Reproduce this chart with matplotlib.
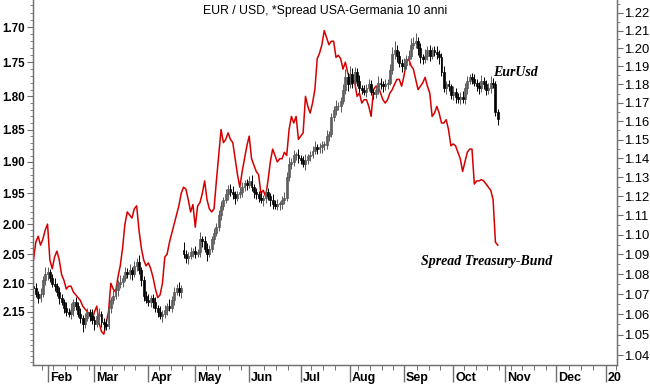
import matplotlib.pyplot as plt
import numpy as np
import pandas as pd
from matplotlib.ticker import FixedLocator, FixedFormatter, NullFormatter

plt.rcParams['font.family'] = ['Liberation Sans', 'DejaVu Sans']

# daily data, one value per weekday starting 24 Jan 2017
start_day = '2017-01-24'

closes = [
    1.073, 1.070, 1.068, 1.070, 1.077, 1.080, 1.081, 1.078, 1.075, 1.074,
    1.071, 1.068, 1.066, 1.063, 1.061, 1.060, 1.062, 1.066, 1.064, 1.060,
    1.058, 1.055, 1.058, 1.061, 1.059, 1.057, 1.055, 1.059, 1.060, 1.056,
    1.055, 1.054, 1.063, 1.067, 1.069, 1.072, 1.075, 1.076, 1.078, 1.081,
    1.080, 1.082, 1.080, 1.084, 1.086, 1.082, 1.077, 1.069, 1.067, 1.066,
    1.068, 1.066, 1.063, 1.061, 1.059, 1.060, 1.062, 1.064, 1.063, 1.067,
    1.071, 1.073, 1.071, 1.073, 1.090, 1.088, 1.089, 1.091, 1.092, 1.090,
    1.091, 1.098, 1.097, 1.093, 1.090, 1.093, 1.098, 1.101, 1.104, 1.110,
    1.115, 1.118, 1.121, 1.124, 1.122, 1.121, 1.119, 1.121, 1.122, 1.125,
    1.127, 1.126, 1.128, 1.125, 1.122, 1.121, 1.119, 1.118, 1.119, 1.122,
    1.120, 1.118, 1.116, 1.115, 1.116, 1.116, 1.118, 1.119, 1.130, 1.137,
    1.138, 1.142, 1.142, 1.140, 1.139, 1.137, 1.139, 1.141, 1.142, 1.144,
    1.146, 1.145, 1.146, 1.147, 1.147, 1.152, 1.153, 1.162, 1.166, 1.168,
    1.168, 1.171, 1.177, 1.184, 1.180, 1.186, 1.181, 1.187, 1.182, 1.178,
    1.177, 1.176, 1.178, 1.180, 1.176, 1.175, 1.177, 1.181, 1.180, 1.179,
    1.180, 1.181, 1.188, 1.197, 1.199, 1.196, 1.192, 1.190, 1.191, 1.194,
    1.196, 1.202, 1.203, 1.204, 1.200, 1.195, 1.194, 1.196, 1.199, 1.196,
    1.199, 1.198, 1.197, 1.195, 1.187, 1.178, 1.180, 1.179, 1.174, 1.176,
    1.173, 1.172, 1.173, 1.172, 1.178, 1.182, 1.184, 1.183, 1.181, 1.179,
    1.178, 1.182, 1.180, 1.177, 1.178, 1.181, 1.180, 1.165, 1.161,
]

# fx opens at the previous close, except the French-election gap
opens = [1.074] + closes[:-1]
opens[64] = 1.0925

# wick lengths in pips above / below the body
wick_hi = [
    20, 25, 15, 30, 20, 35, 25, 15, 20, 30,
    15, 25, 20, 15, 30, 20, 35, 15, 25, 20,
    30, 15, 25, 20, 15, 35, 20, 25, 30, 15,
    20, 25, 20, 15, 30, 25, 20, 35, 15, 25,
    20, 30, 15, 25, 20, 35, 15, 20, 25, 30,
    15, 20, 25, 15, 30, 20, 25, 15, 35, 20,
    25, 20, 30, 15, 40, 25, 20, 30, 15, 25,
    20, 35, 15, 25, 30, 20, 15, 25, 20, 30,
    25, 15, 30, 20, 25, 35, 15, 20, 30, 25,
    15, 20, 25, 30, 15, 25, 20, 35, 15, 20,
    25, 15, 30, 20, 25, 15, 20, 30, 25, 35,
    20, 25, 15, 30, 20, 25, 35, 15, 20, 25,
    30, 15, 20, 25, 20, 30, 15, 25, 20, 35,
    25, 20, 30, 45, 25, 40, 30, 25, 20, 30,
    15, 25, 20, 30, 25, 15, 20, 35, 25, 20,
    30, 20, 35, 40, 50, 30, 25, 20, 35, 25,
    30, 40, 35, 45, 25, 30, 20, 35, 25, 30,
    20, 25, 35, 20, 25, 30, 20, 25, 15, 30,
    20, 25, 30, 35, 30, 25, 20, 25, 30, 20,
    25, 30, 20, 25, 30, 35, 25, 20, 15,
]
wick_lo = [
    30, 15, 25, 20, 15, 25, 30, 20, 15, 25,
    20, 30, 15, 25, 20, 15, 25, 30, 20, 15,
    25, 35, 20, 15, 25, 20, 30, 15, 20, 25,
    30, 20, 15, 25, 20, 15, 30, 20, 25, 15,
    20, 25, 30, 15, 25, 20, 30, 25, 15, 20,
    25, 30, 20, 25, 15, 30, 20, 25, 15, 20,
    25, 15, 20, 30, 20, 25, 30, 15, 25, 20,
    15, 25, 30, 20, 35, 15, 20, 25, 15, 20,
    25, 20, 15, 30, 20, 25, 30, 15, 20, 25,
    20, 25, 15, 20, 30, 25, 20, 15, 30, 25,
    20, 30, 25, 15, 20, 30, 25, 20, 15, 20,
    25, 20, 30, 25, 20, 15, 30, 20, 25, 20,
    15, 25, 20, 30, 25, 20, 25, 15, 20, 25,
    20, 30, 15, 25, 35, 20, 30, 25, 30, 20,
    25, 20, 30, 15, 20, 30, 25, 20, 25, 30,
    20, 25, 15, 20, 30, 35, 25, 30, 20, 25,
    30, 20, 25, 30, 35, 30, 25, 20, 25, 30,
    20, 25, 30, 35, 25, 20, 30, 25, 20, 25,
    30, 20, 25, 20, 25, 30, 20, 25, 20, 25,
    30, 20, 25, 30, 20, 25, 20, 25, 30,
]

# US-German 10y spread (left axis, inverted)
spread = [
    2.06, 2.03, 2.02, 2.035, 2.025, 2.01, 2.00, 2.06, 2.075, 2.055,
    2.045, 2.06, 2.085, 2.095, 2.11, 2.105, 2.105, 2.115, 2.12, 2.125,
    2.13, 2.14, 2.145, 2.15, 2.155, 2.165, 2.15, 2.14, 2.17, 2.185,
    2.19, 2.17, 2.15, 2.10, 2.11, 2.115, 2.09, 2.07, 2.04, 2.00,
    1.98, 1.985, 1.99, 1.975, 1.97, 2.01, 2.04, 2.06, 2.07, 2.065,
    2.075, 2.09, 2.11, 2.125, 2.12, 2.10, 2.055, 2.05, 2.03, 2.015,
    2.00, 1.985, 1.97, 1.95, 1.94, 1.943, 1.96, 1.98, 1.968, 2.005,
    1.97, 1.965, 1.95, 1.93, 1.96, 1.975, 1.98, 1.975, 1.93, 1.89,
    1.85, 1.87, 1.865, 1.855, 1.865, 1.87, 1.895, 1.92, 1.94, 1.915,
    1.895, 1.875, 1.86, 1.895, 1.905, 1.915, 1.92, 1.95, 1.945, 1.955,
    1.93, 1.90, 1.88, 1.89, 1.90, 1.895, 1.895, 1.885, 1.89, 1.85,
    1.83, 1.84, 1.83, 1.865, 1.86, 1.855, 1.80, 1.815, 1.825, 1.81,
    1.79, 1.745, 1.737, 1.725, 1.705, 1.715, 1.725, 1.72, 1.72, 1.743,
    1.74, 1.745, 1.76, 1.75, 1.765, 1.775, 1.775, 1.78, 1.80, 1.795,
    1.81, 1.805, 1.805, 1.815, 1.83, 1.79, 1.785, 1.785, 1.795, 1.805,
    1.81, 1.805, 1.795, 1.79, 1.782, 1.775, 1.775, 1.785, 1.77, 1.75,
    1.745, 1.755, 1.76, 1.775, 1.79, 1.785, 1.78, 1.772, 1.785, 1.795,
    1.83, 1.825, 1.815, 1.825, 1.84, 1.84, 1.835, 1.85, 1.875, 1.872,
    1.875, 1.885, 1.895, 1.915, 1.90, 1.885, 1.88, 1.88, 1.935, 1.93,
    1.93, 1.928, 1.93, 1.935, 1.94, 1.945, 1.96, 2.03, 2.035,
]

left_ticks = [1.70, 1.75, 1.80, 1.85, 1.90, 1.95, 2.00, 2.05, 2.10, 2.15]
right_ticks = [1.04, 1.05, 1.06, 1.07, 1.08, 1.09, 1.10, 1.11, 1.12, 1.13,
               1.14, 1.15, 1.16, 1.17, 1.18, 1.19, 1.20, 1.21, 1.22]
month_labels = ['Feb', 'Mar', 'Apr', 'May', 'Jun', 'Jul', 'Aug', 'Sep',
                'Oct', 'Nov', 'Dec', '20']

title = 'EUR / USD, *Spread USA-Germania 10 anni'

# ---------------------------------------------------------------
days = pd.bdate_range(start_day, '2018-01-31')
x = np.arange(len(closes))
o = np.array(opens)
c = np.array(closes)
hi = np.maximum(o, c) + np.array(wick_hi) / 10000
lo = np.minimum(o, c) - np.array(wick_lo) / 10000

month_starts = pd.date_range('2017-02-01', '2018-01-01', freq='MS')
month_pos = days.searchsorted(month_starts)
fridays = np.where(days.weekday == 4)[0] + 0.5
week_pos = [f for f in fridays if np.min(np.abs(month_pos - f)) > 1.6]

fig = plt.figure(figsize=(6.5, 3.84), dpi=100)
ax = fig.add_axes([33 / 650, 19 / 384, 584 / 650, 365 / 384])
ax2 = ax.twinx()

spine_col = '#707070'

# spread, left axis, log, inverted
ax.plot(x, spread, color='#d40000', lw=1.1, zorder=3)
ax.set_yscale('log')
ax.set_ylim(2.2464, 1.6625)
ax.yaxis.set_major_locator(FixedLocator(left_ticks))
ax.yaxis.set_major_formatter(FixedFormatter(['%.2f' % v for v in left_ticks]))
ax.yaxis.set_minor_locator(FixedLocator(np.round(np.arange(1.67, 2.245, 0.01), 2)))
ax.yaxis.set_minor_formatter(NullFormatter())
ax.tick_params(axis='y', which='major', length=4, width=0.8, color=spine_col,
               labelsize=8.3, pad=1.5)
ax.tick_params(axis='y', which='minor', length=2, width=0.6, color=spine_col)
plt.setp(ax.get_yticklabels(), fontweight='bold')

# eur/usd candles, right axis, log
ax2.set_yscale('log')
ax2.set_ylim(1.0352, 1.2274)
up = c >= o
ax2.vlines(x[up], lo[up], hi[up], color='#5a5a5a', lw=0.7)
ax2.vlines(x[~up], lo[~up], hi[~up], color='black', lw=0.7)
body = np.maximum(np.abs(c - o), 0.0004)
ax2.bar(x[up], body[up], bottom=o[up], width=0.8, color='white',
        edgecolor='#4a4a4a', linewidth=0.55)
ax2.bar(x[~up], body[~up], bottom=c[~up], width=0.8, color='black',
        edgecolor='black', linewidth=0.5)
ax2.yaxis.set_major_locator(FixedLocator(right_ticks))
ax2.yaxis.set_major_formatter(FixedFormatter(['%.2f' % v for v in right_ticks]))
ax2.yaxis.set_minor_locator(FixedLocator(np.round(np.arange(1.035, 1.23, 0.01), 3)))
ax2.yaxis.set_minor_formatter(NullFormatter())
ax2.tick_params(axis='y', which='major', length=4, width=0.8, color=spine_col,
                labelsize=9.4, pad=0.8)
ax2.tick_params(axis='y', which='minor', length=2, width=0.6, color=spine_col)

# x axis: months and weeks
ax.set_xlim(-0.2, -0.2 + 584 / 2.345)
ax.xaxis.set_major_locator(FixedLocator(month_pos))
ax.xaxis.set_minor_locator(FixedLocator(week_pos))
ax.tick_params(axis='x', which='major', length=12.5, width=1.0, color=spine_col,
               labelbottom=False)
ax.tick_params(axis='x', which='minor', length=3.5, width=0.7, color=spine_col)
for p, lab in zip(month_pos, month_labels):
    ax.text(p + 0.9, -0.035, lab, transform=ax.get_xaxis_transform(),
            ha='left', va='center', fontsize=9, fontweight='bold', clip_on=False)

for a in (ax, ax2):
    a.spines['top'].set_visible(False)
    for s in ('left', 'right', 'bottom'):
        a.spines[s].set_color(spine_col)
        a.spines[s].set_linewidth(0.9)

fig.text(325 / 650, 1 - 11 / 384, title, ha='center', va='center', fontsize=8.8)
fig.text(493 / 650, 1 - 73 / 384, 'EurUsd', family='Liberation Serif',
         fontweight='bold', style='italic', fontsize=10, va='center')
fig.text(421 / 650, 1 - 261 / 384, 'Spread Treasury-Bund', family='Liberation Serif',
         fontweight='bold', style='italic', fontsize=10, va='center')

fig.savefig('out.png', dpi=100)
